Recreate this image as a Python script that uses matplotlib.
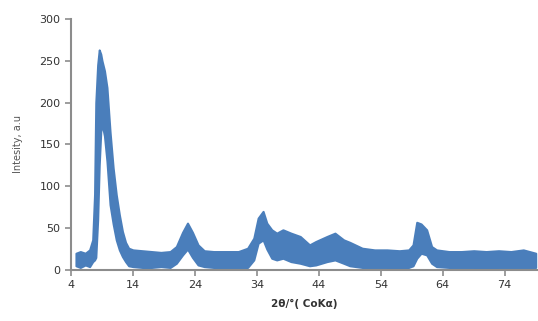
import numpy as np
import matplotlib.pyplot as plt

# 2theta positions (deg) and the envelope of the noisy XRD trace
two_theta = [4.8, 5.5, 6.3, 7.0, 7.5, 7.8, 8.0, 8.3, 8.55, 8.8, 9.0, 9.4, 9.8,
             10.3, 10.8, 11.3, 11.8, 12.3, 12.8, 13.3, 14.0, 15.5, 17.0, 18.5,
             20.0, 21.0, 22.0, 22.8, 23.6, 24.5, 25.5, 27.0, 29.0, 31.0, 32.5,
             33.5, 34.2, 35.0, 35.6, 36.4, 37.2, 38.2, 39.5, 41.0, 42.5, 43.5,
             45.3, 46.6, 48.0, 49.0, 51.0, 53.0, 55.0, 57.0, 58.5, 59.2, 59.8,
             60.5, 61.4, 62.2, 63.0, 65.0, 67.0, 69.0, 71.0, 73.0, 75.0, 77.0,
             79.0]
upper = [20, 22, 20, 24, 36, 90, 200, 245, 263, 258, 250, 238, 218,
         165, 122, 90, 66, 46, 33, 26, 24, 23, 22, 21,
         22, 28, 45, 56, 45, 30, 23, 22, 22, 22, 26,
         38, 62, 70, 56, 48, 44, 48, 44, 40, 30, 34,
         40, 44, 36, 33, 26, 24, 24, 23, 24, 30, 57,
         55, 48, 28, 24, 22, 22, 23, 22, 23, 22, 24,
         20]
lower = [5, 3, 6, 4, 10, 12, 15, 60, 125, 165, 175, 160, 130,
         78, 55, 36, 24, 16, 10, 5, 4, 3, 3, 4,
         3, 8, 18, 25, 15, 6, 4, 3, 3, 3, 3,
         12, 32, 36, 25, 14, 12, 14, 10, 8, 5, 6,
         10, 12, 8, 5, 3, 3, 3, 2, 3, 5, 14,
         20, 18, 8, 4, 3, 3, 3, 2, 3, 3, 3,
         3]

xticks = [4, 14, 24, 34, 44, 54, 64, 74]
yticks = [0, 50, 100, 150, 200, 250, 300]

fig = plt.figure(figsize=(5.38, 3.21), dpi=100)
ax = fig.add_axes([0.132, 0.159, 0.866, 0.782])

ax.fill_between(two_theta, lower, upper, color='#4a7ebb', lw=1.5, edgecolor='#4a7ebb')

ax.set_xlim(4, 79.2)
ax.set_ylim(0, 300)
ax.set_xticks(xticks)
ax.set_yticks(yticks)
for s in ['top', 'right']:
    ax.spines[s].set_visible(False)
for s in ['left', 'bottom']:
    ax.spines[s].set_color('#8c8c8c')
    ax.spines[s].set_linewidth(1.5)
ax.tick_params(colors='#8c8c8c', labelcolor='#333333', labelsize=8, length=4, width=1.2)

ax.set_xlabel('2θ/°( CoKα)', fontsize=7.5, fontweight='bold', color='#333333', labelpad=6)
ax.set_ylabel('Intesity, a.u', fontsize=7, color='#555555', labelpad=12)

plt.savefig('out.png', dpi=100)
